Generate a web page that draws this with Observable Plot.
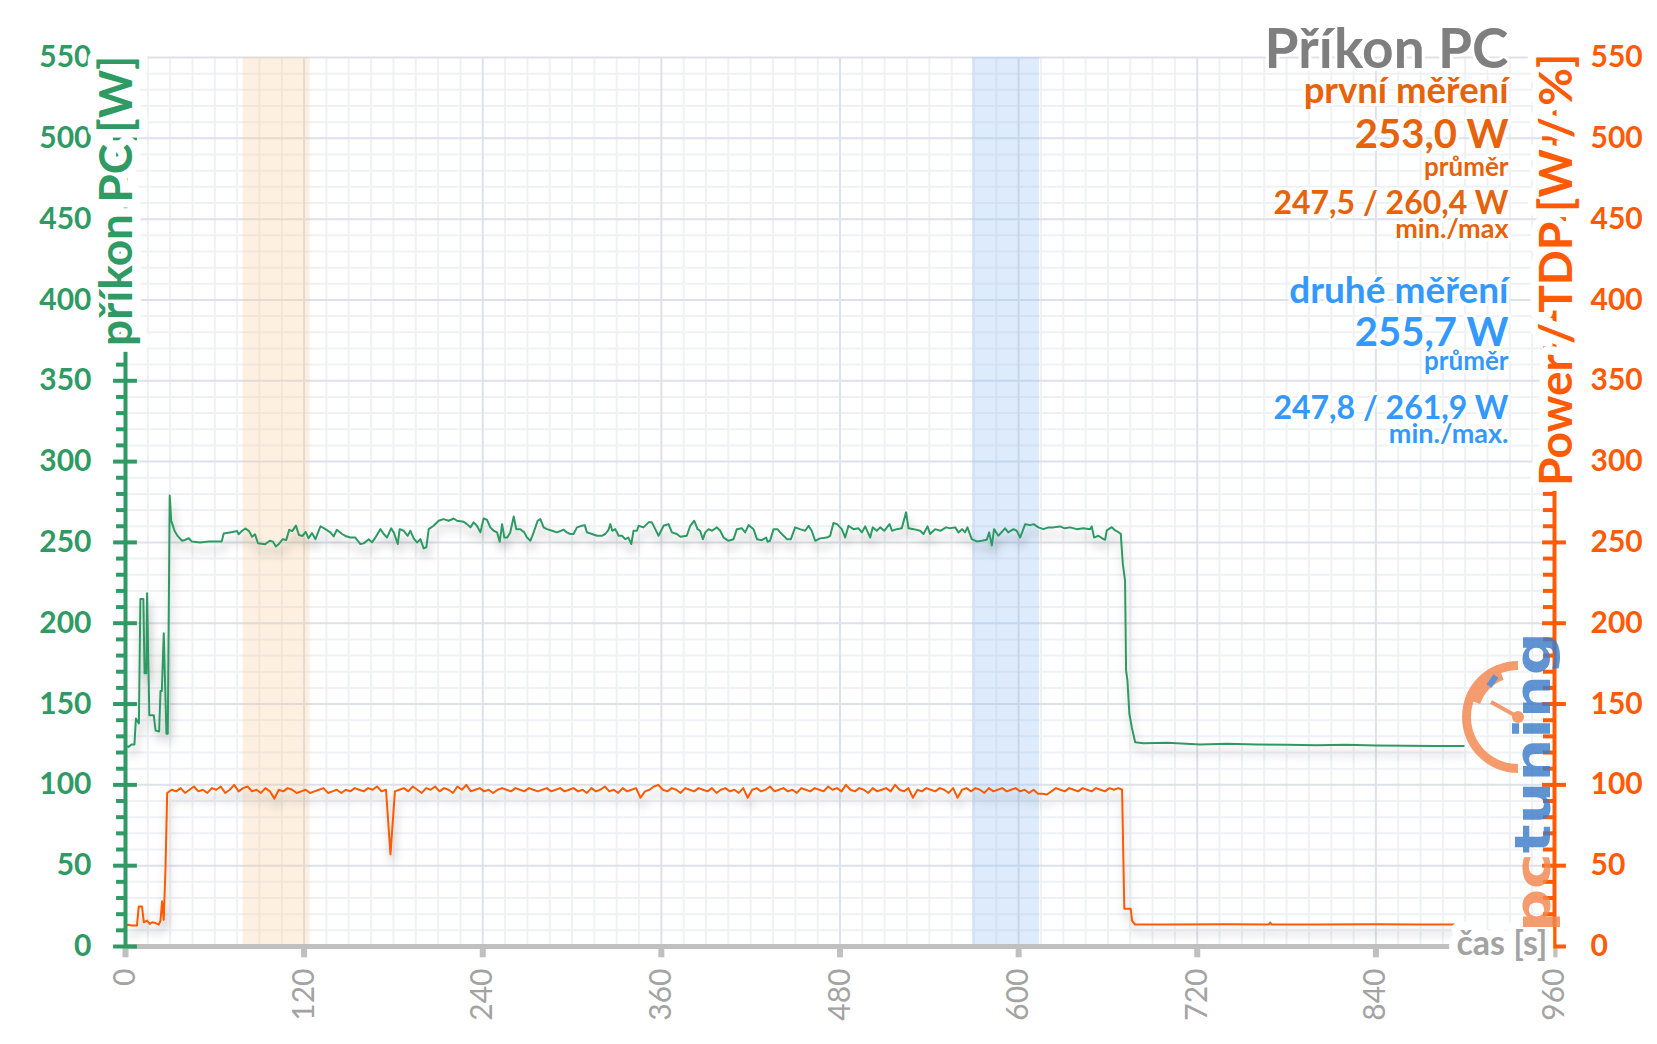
<!DOCTYPE html>
<html><head><meta charset="utf-8">
<script src="https://cdn.jsdelivr.net/npm/d3@7"></script>
<script src="https://cdn.jsdelivr.net/npm/@observablehq/plot@0.6"></script>
<style>
html,body{margin:0;padding:0;background:#fff;}
#chart svg{display:block}
</style></head><body><div id="chart"></div>
<script>
// ---------------- DATA ----------------
const xTicks = [0, 120, 240, 360, 480, 600, 720, 840, 960];
const yTicks = [0, 50, 100, 150, 200, 250, 300, 350, 400, 450, 500, 550];

// green series: příkon PC [W]
const greenTime = [0,2,4,6,7,9,10,12,12.8,14,14.5,16,19,20.2,22.6,23.5,24.4,25.7,27.5,28.4,29.7,30.7,33,35,38,40,42.5,44.6,50,56,60,64.6,66,69,72,75,76,78,80.6,83,85,87,89,93.6,97,99,101,103,105.6,108,110,112,114.5,116.5,119,121,123,125.3,127.6,131,134.3,137.6,139.9,142,145.5,147.7,151,154.4,157.8,160,163.4,165.6,167.9,171.2,173.5,175.7,178.4,180.2,182.9,184.2,186.9,189.6,191.4,193.6,195.8,198.1,200.3,202.1,203.7,207,210.4,213.7,217.1,220.5,222.7,227.2,229.4,231.7,233.9,236.1,238.4,240.6,242.8,245.1,247.3,249.6,251.4,253,254.5,256.5,258.5,260.8,262.5,265.2,267.9,269.7,272,274.2,276.9,278.7,280.9,283.1,286.5,289.8,294.3,296.5,298.8,301,303.3,306.6,308.5,310,313.4,316.7,320,322.3,324.5,325.7,327,329,331.3,333.5,335.7,337.8,339.8,341.3,343.6,344.7,348,351.4,353.6,355.9,358.1,361.5,364.8,367.1,370.4,372.7,377.1,379.4,382.1,384.3,386,387.9,389.5,391.7,394,397.3,399.5,401.8,405.1,408.5,410.7,414.1,416.3,418.6,421.9,424.2,427.5,430.4,431.3,433,435.4,438,439.8,442.1,444.3,447,449.9,453,456.6,458.9,461,463.3,466.7,471.2,473.4,475.6,478,481.2,483.5,485.7,489,492.4,494.7,496.9,500.3,502,504.7,507,509.7,513.3,514.9,518.2,521.5,524.4,526,529.5,533.8,536.1,538.8,540.5,543.9,547.4,551.3,553.9,557.4,559.6,562,564,565.6,568.5,571.9,575.2,578.6,580.2,582,583.5,586.4,590.9,593,596.5,598.7,601,604.4,607.9,610,613.3,616.7,620,623.4,627.9,630.9,634.6,639,643.5,648,649.1,650.7,653.6,657,658.1,659.2,662.6,664.8,667.1,668.6,670,671.5,672.2,673.1,674.4,676,678.3,683.9,700,721.9,740,760,780,800,820,840,860,880,899];
const greenPower = [124,123.5,125,125,141,138,215,215,169,169,218.6,143,143,133.6,133,158,158,193.8,131.6,131.6,279,263.5,257,254,251,251.5,252.6,250.5,250,250.5,250.5,250.5,255.5,256,256.5,257,255,257,258.6,257,253.5,255,249.5,248.8,251,250.5,247.5,249,252,251.5,257.8,257,260.4,254.6,254,256.5,252.6,255.8,252,260,258.2,256.2,253.7,257.8,255.2,254,253,253,249,249.4,252,250,253,258.2,255.2,253,258.7,256.2,249,258.2,257.2,254.1,257.2,252.5,250,252,246.3,247,258.2,260.3,263.4,264.4,263.4,264.8,263.4,262.8,261.3,259.3,262.4,260.3,256.2,264.8,264,259.3,257.2,256.2,250.4,261.3,253,253,256.2,266,258.2,258.2,256.2,253,251,256.2,263.4,264.4,259.3,258.2,257.2,256.2,257.8,256.2,255.2,255.2,259.3,260.3,260.7,256.2,255.2,254.1,254.1,255.2,257.8,261.3,257.2,258.2,254.1,254.1,252,253,249,257.2,257.2,260.3,259.3,262.4,262.4,258.2,254.1,260.3,261.3,256.2,255.2,253.5,254.1,260.3,263.4,258.2,257.2,252,256.2,258.2,257.2,259.3,257.2,253,251,252,258.2,258.7,256.2,260.7,258.2,252,251.4,253,250.4,251,258.2,258.2,256.2,254.1,252,252,259.3,258.2,257.2,260.3,257.2,251,252.5,253,254.1,262,261.3,258.2,253,260.3,258.2,258.7,256.2,259.9,253,259.3,257.2,259.3,257.2,261.3,257.2,258.2,258.7,268.6,258.7,258.2,257.2,255.2,259.9,255.2,258.2,257.2,259.3,258.7,259.3,256.2,258.2,256.2,259.3,252,250.6,251,251.6,256.2,248,258.2,254.1,258.7,256.2,258.2,257.2,253,261.3,260.7,261.3,259.3,258.2,259.3,259.3,259.9,258.7,259.3,258.2,258.7,258.2,259.9,253,254.1,252,251.6,257.4,259.4,257.4,256.3,255.3,236.7,226.4,170.7,164.6,144,135.7,126.4,125.8,126,125,125.5,125,124.8,124.5,124.8,124.3,124.2,124.1,124];

// orange series: Power / TDP
const orangeStartTime = [0,2,4,7.7,8.9,11.1,12.3,14.5,16.3,17.9,20.2,22.4,23.5,24.6,25.7,26.9];
const orangeStartValue = [13,13.5,13,13,24.7,24.7,15,16,14,15,14.5,13.5,16,28,16.5,49];
const plateauStart = 28, plateauStep = 3;
const orangePlateau = [
  95,97,96,98,95,97,99,96,97,95,
  98,97,99,95,97,100,96,98,99,96,
  97,95,98,96,91.5,97,96,98,97,95,
  96,97,95,96,97,98,95,96,97,95,
  97,96,98,97,96,98,97,99,96,97,
  57,96,97,98,96,99,97,95,98,97,
  99,96,98,97,95,99,97,100,96,97,
  98,96,97,95,97,98,97,96,98,97,
  96,98,97,96,97,98,96,97,98,96,
  97,98,96,97,95,98,96,97,99,96,
  97,95,98,96,97,98,92,96,97,99,
  100,97,96,98,97,95,98,97,96,98,
  97,96,98,95,97,98,96,97,95,98,
  92,97,98,96,97,99,96,97,98,96,
  97,95,98,97,96,98,97,96,99,97,
  98,96,100,97,96,98,97,95,98,96,
  97,98,96,100,97,96,98,92,97,96,
  98,97,96,98,97,95,98,92,97,98,
  96,98,97,95,98,96,97,98,96,97,
  98,96,97,95,97,94.5,94.5,94,96,98,
  97,96,98,97,96,98,97,96,98,97,
  96,98,97,98];
const orangeTailTime = [669.5,671,675.3,676.2,678.2,700,740,768,769,770,800,840,870,899];
const orangeTailValue = [97,23.3,23.3,16,13.6,13.6,13.8,13.6,14.8,13.6,13.6,13.7,13.6,13.6];

// highlighted measurement windows [s]
const bandStart = [79, 569];
const bandEnd = [124, 614];

const leftTitle = "příkon PC [W]";
const rightTitle = "Power / TDP [W / %]";
const xTitle = "čas [s]";
const infoTexts = ["Příkon PC","první měření","253,0 W","průměr","247,5 / 260,4 W","min./max","druhé měření","255,7 W","průměr","247,8 / 261,9 W","min./max."];

// ---------------- STYLE ----------------
const GREEN = "#2f9a64", ORANGE = "#ff5a05", AXISGRAY = "#c0c0c0", LABELGRAY = "#a3a3a3";
const FIRST = "#e6630c", SECOND = "#3399ff", TITLEGRAY = "#7f7f7f";
const FONT = "Lato, 'Open Sans', sans-serif";
const infoLayout = [
  {c: TITLEGRAY, s: 55, b: 67},
  {c: FIRST, s: 36.5, b: 102},
  {c: FIRST, s: 40, b: 147},
  {c: FIRST, s: 26, b: 175},
  {c: FIRST, s: 32, b: 213},
  {c: FIRST, s: 27, b: 237},
  {c: SECOND, s: 37, b: 302},
  {c: SECOND, s: 40, b: 345},
  {c: SECOND, s: 26, b: 369},
  {c: SECOND, s: 32, b: 418},
  {c: SECOND, s: 27, b: 442}
];
const MT = 57;

const greenData = greenTime.map((t, i) => ({t, v: greenPower[i]}));
const orangeData = [
  ...orangeStartTime.map((t, i) => ({t, v: orangeStartValue[i]})),
  ...orangePlateau.map((v, i) => ({t: plateauStart + i * plateauStep, v})),
  ...orangeTailTime.map((t, i) => ({t, v: orangeTailValue[i]}))
];
const minorX = d3.range(0, 961, 15).filter(d => d % 120 !== 0);
const minorY = d3.range(0, 551, 10).filter(d => d % 50 !== 0);
const bandFills = [{fill: "#f8c690", op: 0.27}, {fill: "#90bdf5", op: 0.3}];

const halo = {stroke: "white", strokeWidth: 6, paintOrder: "stroke"};
const bigHalo = {stroke: "white", strokeWidth: 17, paintOrder: "stroke"};

const chart = Plot.plot({
  width: 1657, height: 1044,
  marginLeft: 125, marginRight: 103, marginTop: MT, marginBottom: 98,
  x: {domain: [0, 960], axis: null},
  y: {domain: [0, 550], axis: null},
  style: {fontFamily: FONT, background: "white", overflow: "visible"},
  marks: [
    Plot.ruleX(minorX, {stroke: "#eff1f5", strokeWidth: 2}),
    Plot.ruleY(minorY, {stroke: "#eff1f5", strokeWidth: 2}),
    Plot.ruleX(xTicks, {stroke: "#dde1ea", strokeWidth: 2}),
    Plot.ruleY(yTicks, {stroke: "#dde1ea", strokeWidth: 2}),
    ...bandStart.map((s, i) => Plot.rect([{x1: s, x2: bandEnd[i]}], {x1: "x1", x2: "x2", y1: 0, y2: 550, fill: bandFills[i].fill, fillOpacity: bandFills[i].op})),
    Plot.line(orangeData, {x: "t", y: "v", stroke: ORANGE, strokeWidth: 2}),
    Plot.line(greenData, {x: "t", y: "v", stroke: GREEN, strokeWidth: 2}),
    // bottom axis
    Plot.ruleY([0], {stroke: AXISGRAY, strokeWidth: 5}),
    Plot.ruleX(xTicks, {y1: 0, y2: -7, stroke: AXISGRAY, strokeWidth: 6}),
    // left axis
    Plot.ruleX([0], {stroke: GREEN, strokeWidth: 4}),
    Plot.ruleY(minorY, {x1: -6, x2: 0, stroke: GREEN, strokeWidth: 4}),
    Plot.ruleY(yTicks, {x1: -8, x2: 8, stroke: GREEN, strokeWidth: 4}),
    // right axis
    Plot.ruleX([960], {stroke: ORANGE, strokeWidth: 4}),
    Plot.ruleY(minorY, {x1: 952.6, x2: 960, stroke: ORANGE, strokeWidth: 4}),
    Plot.ruleY(yTicks, {x1: 952, x2: 968, stroke: ORANGE, strokeWidth: 4}),
    // tick labels
    Plot.text(yTicks, {x: 0, y: d => d, text: d => String(d), dx: -34, textAnchor: "end", fill: GREEN, fontSize: 30, fontWeight: "bold"}),
    Plot.text(yTicks, {x: 960, y: d => d, text: d => String(d), dx: 36, textAnchor: "start", fill: ORANGE, fontSize: 30, fontWeight: "bold"}),
    Plot.text(xTicks, {x: d => d, y: 0, text: d => String(d), rotate: -90, textAnchor: "end", dy: 22, fill: LABELGRAY, fontSize: 30}),
    // axis titles
    Plot.text([leftTitle], {frameAnchor: "top-left", lineAnchor: "middle", text: d => d, rotate: -90, textAnchor: "end", dx: -8, dy: -2, fill: GREEN, fontSize: 46, fontWeight: "bold", ...bigHalo}),
    Plot.text([rightTitle], {frameAnchor: "top-right", lineAnchor: "middle", text: d => d, rotate: -90, textAnchor: "end", dx: 3, dy: -4, fill: ORANGE, fontSize: 46, fontWeight: "bold", ...bigHalo}),
    Plot.text([xTitle], {frameAnchor: "bottom-right", lineAnchor: "middle", text: d => d, textAnchor: "end", dx: -7, dy: -2, fill: LABELGRAY, fontSize: 34, fontWeight: "bold", ...bigHalo}),
    // info block
    ...infoTexts.map((t, i) => Plot.text([t], {frameAnchor: "top-right", lineAnchor: "middle", text: d => d, textAnchor: "end", dx: -46,
      dy: infoLayout[i].b - MT - 0.32 * infoLayout[i].s, fill: infoLayout[i].c, fontSize: infoLayout[i].s, fontWeight: "bold", ...halo}))
  ]
});
document.getElementById("chart").appendChild(chart);

// post-processing: halos paint order, line shadows, watermark logo
const svg = d3.select(chart.tagName.toLowerCase() === "svg" ? chart : chart.querySelector("svg"));
svg.selectAll("g").filter(function() { return this.getAttribute("stroke") === "white"; }).attr("paint-order", "stroke").attr("stroke-linejoin", "round");
const defs = svg.insert("defs", ":first-child");
const f = defs.append("filter").attr("id", "lineShadow").attr("x", "-5%").attr("y", "-30%").attr("width", "110%").attr("height", "160%");
f.append("feDropShadow").attr("dx", 2).attr("dy", 8).attr("stdDeviation", 5).attr("flood-color", "#000").attr("flood-opacity", 0.3);
svg.selectAll('g[aria-label="line"]').attr("filter", "url(#lineShadow)");

const logo = svg.append("g").attr("opacity", 0.82);
const cx = 1518, cy = 717;
logo.append("path").attr("transform", `translate(${cx},${cy})`)
  .attr("d", d3.arc()({innerRadius: 47, outerRadius: 56, startAngle: Math.PI, endAngle: 2 * Math.PI}))
  .attr("fill", "#f4874f");
logo.append("path").attr("transform", `translate(${cx},${cy})`)
  .attr("d", d3.arc()({innerRadius: 40, outerRadius: 56, startAngle: 289 / 180 * Math.PI, endAngle: 339 / 180 * Math.PI}))
  .attr("fill", "#f4874f");
logo.append("line").attr("x1", cx).attr("y1", cy).attr("x2", cx - 27).attr("y2", cy - 15).attr("stroke", "#f4874f").attr("stroke-width", 4);
logo.append("circle").attr("cx", cx).attr("cy", cy).attr("r", 6).attr("fill", "#f4874f");
logo.append("line").attr("x1", 1489).attr("y1", 686).attr("x2", 1496).attr("y2", 676).attr("stroke", "#3d7cc9").attr("stroke-width", 6);
const lt = logo.append("text").attr("transform", "translate(1550,932) rotate(-90)")
  .attr("text-anchor", "start")
  .attr("font-family", "'DejaVu Sans', sans-serif").attr("font-weight", "bold").attr("font-size", 50)
  .attr("textLength", 300).attr("lengthAdjust", "spacingAndGlyphs");
lt.append("tspan").attr("fill", "#f4874f").text("pc");
lt.append("tspan").attr("fill", "#3d7cc9").text("tuning");
</script></body></html>
